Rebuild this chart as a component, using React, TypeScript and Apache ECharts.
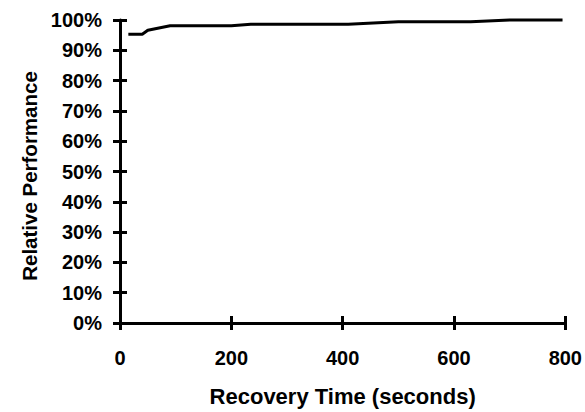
import React, { useEffect, useRef } from "react";
import * as echarts from "echarts";

const recoveryTimes = [15, 40, 50, 90, 200, 235, 410, 500, 630, 700, 795];
const relativePerformance = [95.3, 95.3, 96.6, 98.1, 98.1, 98.6, 98.6, 99.4, 99.4, 100, 100];
const xTicks = [0, 200, 400, 600, 800];
const yTicks = [0, 10, 20, 30, 40, 50, 60, 70, 80, 90, 100];

const FONT = "'Liberation Sans', Arial, sans-serif";

export default function App() {
  const ref = useRef<HTMLDivElement>(null);
  useEffect(() => {
    if (!ref.current) return;
    const chart = echarts.init(ref.current, null, { renderer: "svg" });
    const data = recoveryTimes.map((t, i) => [t, relativePerformance[i]]);
    const labelStyle = { color: "#000", fontFamily: FONT, fontWeight: "bold" as const, fontSize: 20 };
    chart.setOption({
      animation: false,
      backgroundColor: "#fff",
      grid: { left: 120, right: 19, top: 20, bottom: 88 },
      xAxis: [
        {
          type: "value",
          min: xTicks[0],
          max: xTicks[xTicks.length - 1],
          interval: 200,
          name: "Recovery Time (seconds)",
          nameLocation: "middle",
          nameGap: 62,
          nameTextStyle: { ...labelStyle, fontSize: 22 },
          axisLine: { show: true, lineStyle: { color: "#000", width: 3 } },
          axisTick: { show: true, inside: false, length: 7, lineStyle: { color: "#000", width: 3 } },
          axisLabel: { ...labelStyle, margin: 25 },
          splitLine: { show: false },
        },
        {
          type: "value",
          position: "bottom",
          min: xTicks[0],
          max: xTicks[xTicks.length - 1],
          interval: 200,
          axisLine: { show: false },
          axisTick: { show: true, inside: true, length: 7, lineStyle: { color: "#000", width: 3 } },
          axisLabel: { show: false },
          splitLine: { show: false },
        },
      ],
      yAxis: [
        {
          type: "value",
          min: yTicks[0],
          max: yTicks[yTicks.length - 1],
          interval: 10,
          name: "Relative Performance",
          nameLocation: "middle",
          nameGap: 72,
          nameTextStyle: { ...labelStyle, fontSize: 20.5, padding: [0, 9, 0, 0] },
          axisLine: { show: true, lineStyle: { color: "#000", width: 3 } },
          axisTick: { show: true, inside: false, length: 7, lineStyle: { color: "#000", width: 3 } },
          axisLabel: { ...labelStyle, margin: 18, formatter: "{value}%" },
          splitLine: { show: false },
        },
        {
          type: "value",
          position: "left",
          min: yTicks[0],
          max: yTicks[yTicks.length - 1],
          interval: 10,
          axisLine: { show: false },
          axisTick: { show: true, inside: true, length: 7, lineStyle: { color: "#000", width: 3 } },
          axisLabel: { show: false },
          splitLine: { show: false },
        },
      ],
      series: [
        {
          type: "line",
          data,
          showSymbol: false,
          symbol: "none",
          lineStyle: { color: "#000", width: 3 },
          clip: false,
        },
      ],
    });
    return () => chart.dispose();
  }, []);
  return <div ref={ref} style={{ width: 585, height: 412, position: "absolute", left: 0, top: 0 }} />;
}
